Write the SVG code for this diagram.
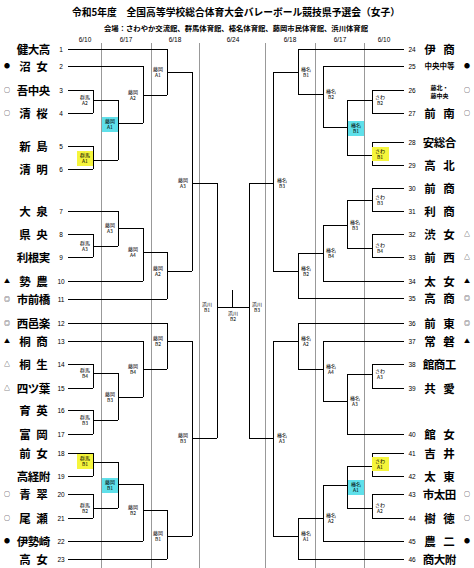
<svg xmlns="http://www.w3.org/2000/svg" width="474" height="568" viewBox="0 0 474 568">
<style>
text{font-family:"Noto Sans CJK JP","Noto Sans",sans-serif;fill:#000}
.ti{font-size:10px;font-weight:bold}
.sub{font-size:7px;font-weight:bold}
.dt{font-size:6.5px;text-anchor:middle;font-family:"Liberation Sans",sans-serif}
.nm{font-size:11.5px;font-weight:bold;text-anchor:middle}
.sm{font-size:7.5px;font-weight:bold;text-anchor:middle}
.xs{font-size:6px;font-weight:bold;text-anchor:middle}
.no{font-size:6.5px;text-anchor:middle;font-family:"Liberation Sans",sans-serif}
.mk{font-size:6px;text-anchor:middle}
.lb{font-size:5px;text-anchor:middle}
.ln{stroke:#000;stroke-width:1;fill:none}
.sep{stroke:#999;stroke-width:1}
.yel{fill:#f5f53c}
.cy{fill:#5fe0ea}
</style>
<rect width="474" height="568" fill="#fff"/>
<g id="title">
<text class="ti" x="72" y="16" textLength="328" lengthAdjust="spacingAndGlyphs">令和5年度　全国高等学校総合体育大会バレーボール競技県予選会（女子）</text>
<text class="sub" x="104" y="31" textLength="264" lengthAdjust="spacingAndGlyphs">会場：さわやか交流館、群馬体育館、榛名体育館、藤岡市民体育館、浜川体育館</text>
</g>
<g id="dates">
<text class="dt" x="85" y="42">6/10</text>
<text class="dt" x="126" y="42">6/17</text>
<text class="dt" x="175" y="42">6/18</text>
<text class="dt" x="233" y="42">6/24</text>
<text class="dt" x="290" y="42">6/18</text>
<text class="dt" x="340" y="42">6/17</text>
<text class="dt" x="384" y="42">6/10</text>
</g>
<g id="separators" shape-rendering="crispEdges">
<line class="sep" x1="101" y1="43" x2="101" y2="568"/>
<line class="sep" x1="151" y1="43" x2="151" y2="568"/>
<line class="sep" x1="199" y1="43" x2="199" y2="568"/>
<line class="sep" x1="265" y1="43" x2="265" y2="568"/>
<line class="sep" x1="315" y1="43" x2="315" y2="568"/>
<line class="sep" x1="364" y1="43" x2="364" y2="568"/>
</g>
<g id="connectors" shape-rendering="crispEdges">
<path class="ln" d="M68 49H167M68 66H143M68 90H93M68 113H93M68 146H93M68 169H93M68 211H118M68 234H93M68 257H93M68 281H143M68 299H167M68 323H167M68 341H143M68 364H93M68 388H93M68 410H93M68 434H93M68 453H93M68 476H93M68 494H93M68 518H93M68 541H143M68 559H167"/>
<path class="ln" d="M93 90V113M93 100H118M93 146V169M93 160H118M93 234V257M93 246H118M93 364V388M93 373H118M93 410V434M93 420H118M93 453V476M93 462H118M93 494V518M93 508H118"/>
<path class="ln" d="M118 100V160M118 123H143M118 211V246M118 228H143M118 373V420M118 397H143M118 462V508M118 484H143"/>
<path class="ln" d="M143 66V123M143 95H167M143 228V281M143 252H167M143 341V397M143 369H167M143 484V541M143 510H167"/>
<path class="ln" d="M167 49V95M167 72H192M167 252V299M167 271H192M167 323V369M167 341H192M167 510V559M167 536H192"/>
<path class="ln" d="M192 72V271M192 183H217M192 341V536M192 438H217M217 183V438M217 307H249M232 290V307"/>
<path class="ln" d="M404 49H298M404 66H323M404 90H372M404 113H372M404 142H372M404 165H372M404 188H372M404 211H372M404 234H372M404 257H372M404 281H323M404 298H298M404 323H298M404 341H323M404 364H372M404 388H372M404 434H347M404 453H372M404 476H372M404 494H372M404 518H372M404 541H323M404 559H298"/>
<path class="ln" d="M372 90V113M372 100H347M372 142V165M372 155H347M372 188V211M372 200H347M372 234V257M372 248H347M372 364V388M372 374H347M372 453V476M372 466H347M372 494V518M372 508H347"/>
<path class="ln" d="M347 100V155M347 127H323M347 200V248M347 225H323M347 374V434M347 401H323M347 466V508M347 485H323"/>
<path class="ln" d="M323 66V127M323 94H298M323 225V281M323 253H298M323 341V401M323 369H298M323 485V541M323 518H298"/>
<path class="ln" d="M298 49V94M298 72H273M298 253V298M298 271H273M298 323V369M298 341H273M298 518V559M298 536H273"/>
<path class="ln" d="M273 72V271M273 183H249M273 341V536M273 438H249M249 183V438"/>
</g>
<g id="teams-left">
<g id="t1"><text class="nm" x="22.5 33.5 44.5" y="54">健大高</text><text class="no" x="61" y="51.5">1</text></g>
<g id="t2"><text class="mk" x="7" y="68">●</text><text class="nm" x="25 42" y="71">沼女</text><text class="no" x="61" y="68.5">2</text></g>
<g id="t3"><text class="mk" x="7" y="92">○</text><text class="nm" x="22.5 33.5 44.5" y="95">吾中央</text><text class="no" x="61" y="92.5">3</text></g>
<g id="t4"><text class="mk" x="7" y="115">○</text><text class="nm" x="25 42" y="118">清桜</text><text class="no" x="61" y="115.5">4</text></g>
<g id="t5"><text class="nm" x="25 42" y="151">新島</text><text class="no" x="61" y="148.5">5</text></g>
<g id="t6"><text class="nm" x="25 42" y="174">清明</text><text class="no" x="61" y="171.5">6</text></g>
<g id="t7"><text class="nm" x="25 42" y="216">大泉</text><text class="no" x="61" y="213.5">7</text></g>
<g id="t8"><text class="nm" x="25 42" y="239">県央</text><text class="no" x="61" y="236.5">8</text></g>
<g id="t9"><text class="nm" x="22.5 33.5 44.5" y="262">利根実</text><text class="no" x="61" y="259.5">9</text></g>
<g id="t10"><text class="mk" x="7" y="283">▲</text><text class="nm" x="25 42" y="286">勢農</text><text class="no" x="61" y="283.5">10</text></g>
<g id="t11"><text class="mk" x="7" y="301">◎</text><text class="nm" x="22.5 33.5 44.5" y="304">市前橋</text><text class="no" x="61" y="301.5">11</text></g>
<g id="t12"><text class="mk" x="7" y="325">◎</text><text class="nm" x="22.5 33.5 44.5" y="328">西邑楽</text><text class="no" x="61" y="325.5">12</text></g>
<g id="t13"><text class="mk" x="7" y="343">▲</text><text class="nm" x="25 42" y="346">桐商</text><text class="no" x="61" y="343.5">13</text></g>
<g id="t14"><text class="mk" x="7" y="366">△</text><text class="nm" x="25 42" y="369">桐生</text><text class="no" x="61" y="366.5">14</text></g>
<g id="t15"><text class="mk" x="7" y="390">△</text><text class="nm" x="22.5 33.5 44.5" y="393">四ツ葉</text><text class="no" x="61" y="390.5">15</text></g>
<g id="t16"><text class="nm" x="25 42" y="415">育英</text><text class="no" x="61" y="412.5">16</text></g>
<g id="t17"><text class="nm" x="25 42" y="439">富岡</text><text class="no" x="61" y="436.5">17</text></g>
<g id="t18"><text class="nm" x="25 42" y="458">前女</text><text class="no" x="61" y="455.5">18</text></g>
<g id="t19"><text class="nm" x="22.5 33.5 44.5" y="481">高経附</text><text class="no" x="61" y="478.5">19</text></g>
<g id="t20"><text class="mk" x="7" y="496">○</text><text class="nm" x="25 42" y="499">青翠</text><text class="no" x="61" y="496.5">20</text></g>
<g id="t21"><text class="mk" x="7" y="520">○</text><text class="nm" x="25 42" y="523">尾瀬</text><text class="no" x="61" y="520.5">21</text></g>
<g id="t22"><text class="mk" x="7" y="543">●</text><text class="nm" x="22.5 33.5 44.5" y="546">伊勢崎</text><text class="no" x="61" y="543.5">22</text></g>
<g id="t23"><text class="nm" x="25 42" y="564">高女</text><text class="no" x="61" y="561.5">23</text></g>
</g>
<g id="teams-right">
<g id="t24"><text class="no" x="412" y="51.5">24</text><text class="nm" x="430 449" y="54">伊商</text></g>
<g id="t25"><text class="no" x="412" y="68.5">25</text><text class="sm" x="439.5" y="69">中央中等</text><text class="mk" x="467" y="68">●</text></g>
<g id="t26"><text class="no" x="412" y="92.5">26</text><text class="xs" x="439.5" y="90">藤北・</text><text class="xs" x="439.5" y="97.5">藤中央</text><text class="mk" x="467" y="92">○</text></g>
<g id="t27"><text class="no" x="412" y="115.5">27</text><text class="nm" x="430 449" y="118">前南</text><text class="mk" x="467" y="115">○</text></g>
<g id="t28"><text class="no" x="412" y="144.5">28</text><text class="nm" x="428.5 439.5 450.5" y="147">安総合</text></g>
<g id="t29"><text class="no" x="412" y="167.5">29</text><text class="nm" x="430 449" y="170">高北</text></g>
<g id="t30"><text class="no" x="412" y="190.5">30</text><text class="nm" x="430 449" y="193">前商</text></g>
<g id="t31"><text class="no" x="412" y="213.5">31</text><text class="nm" x="430 449" y="216">利商</text></g>
<g id="t32"><text class="no" x="412" y="236.5">32</text><text class="nm" x="430 449" y="239">渋女</text><text class="mk" x="467" y="236">△</text></g>
<g id="t33"><text class="no" x="412" y="259.5">33</text><text class="nm" x="430 449" y="262">前西</text><text class="mk" x="467" y="259">△</text></g>
<g id="t34"><text class="no" x="412" y="283.5">34</text><text class="nm" x="430 449" y="286">太女</text><text class="mk" x="467" y="283">▲</text></g>
<g id="t35"><text class="no" x="412" y="300.5">35</text><text class="nm" x="430 449" y="303">高商</text><text class="mk" x="467" y="300">◎</text></g>
<g id="t36"><text class="no" x="412" y="325.5">36</text><text class="nm" x="430 449" y="328">前東</text><text class="mk" x="467" y="325">◎</text></g>
<g id="t37"><text class="no" x="412" y="343.5">37</text><text class="nm" x="430 449" y="346">常磐</text><text class="mk" x="467" y="343">▲</text></g>
<g id="t38"><text class="no" x="412" y="366.5">38</text><text class="nm" x="428.5 439.5 450.5" y="369">館商工</text></g>
<g id="t39"><text class="no" x="412" y="390.5">39</text><text class="nm" x="430 449" y="393">共愛</text></g>
<g id="t40"><text class="no" x="412" y="436.5">40</text><text class="nm" x="430 449" y="439">館女</text></g>
<g id="t41"><text class="no" x="412" y="455.5">41</text><text class="nm" x="430 449" y="458">吉井</text></g>
<g id="t42"><text class="no" x="412" y="478.5">42</text><text class="nm" x="430 449" y="481">太東</text></g>
<g id="t43"><text class="no" x="412" y="496.5">43</text><text class="nm" x="428.5 439.5 450.5" y="499">市太田</text><text class="mk" x="467" y="496">○</text></g>
<g id="t44"><text class="no" x="412" y="520.5">44</text><text class="nm" x="430 449" y="523">樹徳</text><text class="mk" x="467" y="520">○</text></g>
<g id="t45"><text class="no" x="412" y="543.5">45</text><text class="nm" x="430 449" y="546">農二</text><text class="mk" x="467" y="543">●</text></g>
<g id="t46"><text class="no" x="412" y="561.5">46</text><text class="nm" x="428.5 439.5 450.5" y="564">商大附</text></g>
</g>
<g id="matches-left">
<g id="gA2"><text class="lb" x="85" y="99">群馬</text><text class="lb" x="85" y="105">A2</text></g>
<g id="gA1"><rect class="yel" x="77" y="151" width="16" height="15"/><text class="lb" x="85" y="157">群馬</text><text class="lb" x="85" y="163">A1</text></g>
<g id="gA3"><text class="lb" x="85" y="245">群馬</text><text class="lb" x="85" y="251">A3</text></g>
<g id="gB4"><text class="lb" x="85" y="372">群馬</text><text class="lb" x="85" y="378">B4</text></g>
<g id="gB3"><text class="lb" x="85" y="419">群馬</text><text class="lb" x="85" y="425">B3</text></g>
<g id="gB1"><rect class="yel" x="77" y="454" width="16" height="15"/><text class="lb" x="85" y="460">群馬</text><text class="lb" x="85" y="466">B1</text></g>
<g id="gB2"><text class="lb" x="85" y="507">群馬</text><text class="lb" x="85" y="513">B2</text></g>
<g id="fA1c"><rect class="cy" x="102" y="117" width="16" height="15"/><text class="lb" x="110" y="123">藤岡</text><text class="lb" x="110" y="129">A1</text></g>
<g id="fA3c"><text class="lb" x="110" y="227">藤岡</text><text class="lb" x="110" y="233">A3</text></g>
<g id="fB3c"><text class="lb" x="110" y="396">藤岡</text><text class="lb" x="110" y="402">B3</text></g>
<g id="fB1c"><rect class="cy" x="102" y="478" width="16" height="15"/><text class="lb" x="110" y="484">藤岡</text><text class="lb" x="110" y="490">B1</text></g>
<g id="fA2d"><text class="lb" x="133" y="94">藤岡</text><text class="lb" x="133" y="100">A2</text></g>
<g id="fA4d"><text class="lb" x="133" y="251">藤岡</text><text class="lb" x="133" y="257">A4</text></g>
<g id="fB4d"><text class="lb" x="133" y="368">藤岡</text><text class="lb" x="133" y="374">B4</text></g>
<g id="fB2d"><text class="lb" x="133" y="509">藤岡</text><text class="lb" x="133" y="515">B2</text></g>
<g id="fA1e"><text class="lb" x="158" y="71">藤岡</text><text class="lb" x="158" y="77">A1</text></g>
<g id="fA2e"><text class="lb" x="158" y="270">藤岡</text><text class="lb" x="158" y="276">A2</text></g>
<g id="fB2e"><text class="lb" x="158" y="340">藤岡</text><text class="lb" x="158" y="346">B2</text></g>
<g id="fB1e"><text class="lb" x="158" y="535">藤岡</text><text class="lb" x="158" y="541">B1</text></g>
<g id="fA3f"><text class="lb" x="183" y="182">藤岡</text><text class="lb" x="183" y="188">A3</text></g>
<g id="fB3f"><text class="lb" x="183" y="437">藤岡</text><text class="lb" x="183" y="443">B3</text></g>
<g id="hB1"><text class="lb" x="207" y="306">浜川</text><text class="lb" x="207" y="312">B1</text></g>
</g>
<g id="final"><text class="lb" x="233" y="315">浜川</text><text class="lb" x="233" y="321">B2</text></g>
<g id="matches-right">
<g id="hB3"><text class="lb" x="257" y="306">浜川</text><text class="lb" x="257" y="312">B3</text></g>
<g id="rB3f"><text class="lb" x="282" y="182">榛名</text><text class="lb" x="282" y="188">B3</text></g>
<g id="rA3f"><text class="lb" x="282" y="437">榛名</text><text class="lb" x="282" y="443">A3</text></g>
<g id="rB1e"><text class="lb" x="306" y="71">榛名</text><text class="lb" x="306" y="77">B1</text></g>
<g id="rB2e"><text class="lb" x="306" y="270">榛名</text><text class="lb" x="306" y="276">B2</text></g>
<g id="rA2e"><text class="lb" x="306" y="340">榛名</text><text class="lb" x="306" y="346">A2</text></g>
<g id="rA1e"><text class="lb" x="306" y="535">榛名</text><text class="lb" x="306" y="541">A1</text></g>
<g id="rB2d"><text class="lb" x="331" y="93">榛名</text><text class="lb" x="331" y="99">B2</text></g>
<g id="rB4d"><text class="lb" x="331" y="252">榛名</text><text class="lb" x="331" y="258">B4</text></g>
<g id="rA4d"><text class="lb" x="331" y="368">榛名</text><text class="lb" x="331" y="374">A4</text></g>
<g id="rA2d"><text class="lb" x="331" y="517">榛名</text><text class="lb" x="331" y="523">A2</text></g>
<g id="rB1c"><rect class="cy" x="348" y="121" width="16" height="15"/><text class="lb" x="356" y="127">榛名</text><text class="lb" x="356" y="133">B1</text></g>
<g id="rB3c"><text class="lb" x="355" y="224">榛名</text><text class="lb" x="355" y="230">B3</text></g>
<g id="rA3c"><text class="lb" x="355" y="400">榛名</text><text class="lb" x="355" y="406">A3</text></g>
<g id="rA1c"><rect class="cy" x="348" y="480" width="16" height="15"/><text class="lb" x="356" y="486">榛名</text><text class="lb" x="356" y="492">A1</text></g>
<g id="sB2"><text class="lb" x="380" y="99">さわ</text><text class="lb" x="380" y="105">B2</text></g>
<g id="sB1"><rect class="yel" x="372" y="147" width="17" height="14"/><text class="lb" x="380" y="153">さわ</text><text class="lb" x="380" y="159">B1</text></g>
<g id="sB3"><text class="lb" x="380" y="199">さわ</text><text class="lb" x="380" y="205">B3</text></g>
<g id="sB4"><text class="lb" x="380" y="247">さわ</text><text class="lb" x="380" y="253">B4</text></g>
<g id="sA3"><text class="lb" x="380" y="373">さわ</text><text class="lb" x="380" y="379">A3</text></g>
<g id="sA1"><rect class="yel" x="372" y="457" width="17" height="14"/><text class="lb" x="380" y="463">さわ</text><text class="lb" x="380" y="469">A1</text></g>
<g id="sA2"><text class="lb" x="380" y="507">さわ</text><text class="lb" x="380" y="513">A2</text></g>
</g>
</svg>
